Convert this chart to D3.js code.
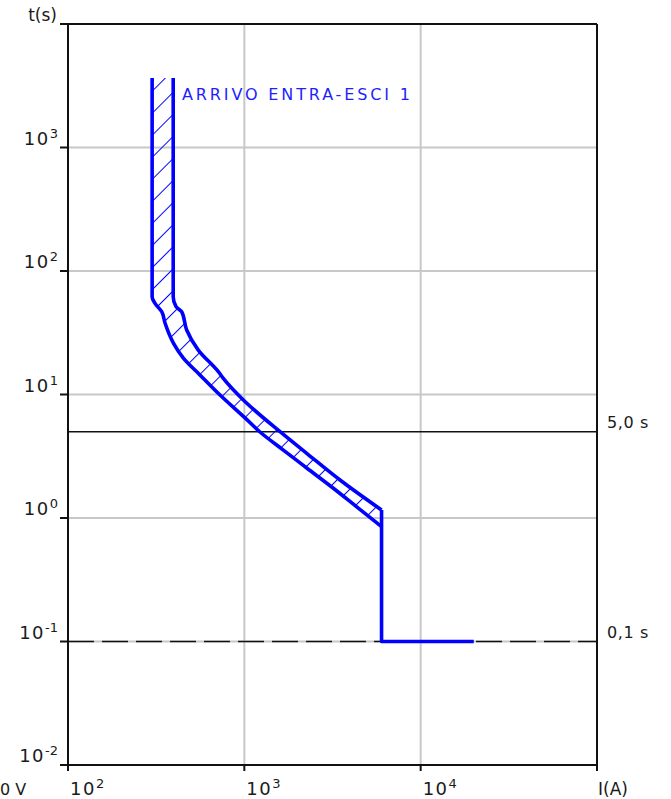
<!DOCTYPE html>
<html>
<head>
<meta charset="utf-8">
<script src="https://cdn.jsdelivr.net/npm/d3@7/dist/d3.min.js"></script>
<style>
  html, body { margin: 0; padding: 0; background: #fff; }
  svg { display: block; }
  text { font-family: "DejaVu Sans", Verdana, sans-serif; fill: #1a1a1a; }
</style>
</head>
<body>
<div id="chart"></div>
<script>
// Decade ticks (exponents of ten)
const xTickExps = [2, 3, 4];
const yTickExps = [3, 2, 1, 0, -1, -2];

// Tripping band of "ARRIVO ENTRA-ESCI 1": minimum (left) and maximum (right) curves
const bandMinI = [300, 300, 311, 340, 355, 396, 451, 560, 728, 1009, 1227, 1657, 2258, 3184, 4339, 6000];
const bandMinT = [3650, 61.6, 55, 46.8, 37.9, 26.1, 19.7, 14.4, 9.9, 6.46, 4.97, 3.56, 2.54, 1.75, 1.23, 0.85];
const bandMaxI = [395, 395, 410, 441, 471, 548, 712, 760, 987, 1594, 2258, 3488, 6000];
const bandMaxT = [3650, 62, 51.4, 46.8, 33.3, 22.9, 15.3, 13.5, 9.03, 5.0, 3.34, 2.03, 1.16];

// Band end and instantaneous trip step
const instantI = [6000, 6000, 6000, 20000];
const instantT = [1.16, 0.85, 0.1, 0.1];

// Time setting reference lines
const settingT = [5, 0.1];
const settingLabels = ["5,0 s", "0,1 s"];
const settingDashed = [false, true];

const curveName = "ARRIVO ENTRA-ESCI 1";

const W = 671, H = 799;
const plotLeft = 68, plotRight = 597, plotTop = 24, plotBottom = 765;

const x = d3.scaleLog().domain([100, 100000]).range([plotLeft, plotRight]);
const y = d3.scaleLog().domain([0.01, 10000]).range([plotBottom, plotTop]);

const svg = d3.select("#chart").append("svg").attr("width", W).attr("height", H);

const defs = svg.append("defs");
const pat = defs.append("pattern")
  .attr("id", "hatch")
  .attr("patternUnits", "userSpaceOnUse")
  .attr("width", 15.6).attr("height", 15.6)
  .attr("patternTransform", "rotate(45)");
pat.append("line")
  .attr("x1", 0).attr("y1", 0).attr("x2", 0).attr("y2", 15.6)
  .attr("stroke", "#0000ff").attr("stroke-width", 2);

// Grid lines
const grid = svg.append("g");
[3, 4].forEach(e => {
  grid.append("line")
    .attr("x1", x(Math.pow(10, e))).attr("x2", x(Math.pow(10, e)))
    .attr("y1", plotTop).attr("y2", plotBottom)
    .attr("stroke", "#c8c8c8").attr("stroke-width", 2);
});
[3, 2, 1, 0, -1].forEach(e => {
  grid.append("line")
    .attr("x1", plotLeft).attr("x2", plotRight)
    .attr("y1", y(Math.pow(10, e))).attr("y2", y(Math.pow(10, e)))
    .attr("stroke", "#c8c8c8").attr("stroke-width", 2);
});

// Setting lines and labels
settingT.forEach((t, i) => {
  svg.append("line")
    .attr("x1", plotLeft).attr("x2", plotRight)
    .attr("y1", y(t)).attr("y2", y(t))
    .attr("stroke", "#111").attr("stroke-width", 1.6)
    .attr("stroke-dasharray", settingDashed[i] ? "26,8" : null);
  svg.append("text")
    .attr("x", 607).attr("y", y(t) - 4)
    .attr("font-size", 16)
    .attr("letter-spacing", 0.6)
    .text(settingLabels[i]);
});

// Frame
const frame = svg.append("g").attr("stroke", "#111").attr("stroke-width", 2).attr("fill", "none");
frame.append("line").attr("x1", 60).attr("x2", plotRight).attr("y1", plotTop).attr("y2", plotTop);
frame.append("line").attr("x1", 60).attr("x2", plotRight).attr("y1", plotBottom).attr("y2", plotBottom);
frame.append("line").attr("x1", plotLeft).attr("x2", plotLeft).attr("y1", plotTop).attr("y2", plotBottom + 6);
frame.append("line").attr("x1", plotRight).attr("x2", plotRight).attr("y1", plotTop).attr("y2", plotBottom + 6);

// Y ticks and labels
yTickExps.forEach(e => {
  const py = y(Math.pow(10, e));
  frame.append("line").attr("x1", 60).attr("x2", plotLeft).attr("y1", py).attr("y2", py);
  const t = svg.append("text")
    .attr("x", 58).attr("y", py - 3)
    .attr("text-anchor", "end")
    .attr("font-size", 18);
  t.append("tspan").attr("letter-spacing", 1.5).text("10");
  t.append("tspan").attr("font-size", 13).attr("dy", -7).text(String(e));
});

// X ticks and labels
xTickExps.forEach(e => {
  const px = x(Math.pow(10, e));
  frame.append("line").attr("x1", px).attr("x2", px).attr("y1", plotBottom).attr("y2", plotBottom + 6);
  const t = svg.append("text")
    .attr("x", px + 2).attr("y", 795)
    .attr("font-size", 18);
  t.append("tspan").attr("letter-spacing", 1.5).text("10");
  t.append("tspan").attr("font-size", 13).attr("dy", -7).text(String(e));
});

svg.append("text").attr("x", 598).attr("y", 795).attr("font-size", 17).text("I(A)");
svg.append("text").attr("x", 57).attr("y", 21).attr("text-anchor", "end").attr("font-size", 17).text("t(s)");
svg.append("text").attr("x", 0).attr("y", 795).attr("font-size", 16).text("0 V");

// Tripping band
const minPts = bandMinI.map((v, i) => [x(v), y(bandMinT[i])]);
const maxPts = bandMaxI.map((v, i) => [x(v), y(bandMaxT[i])]);
const smooth = d3.line().curve(d3.curveMonotoneY);

// Hatched area between the two curves
const areaPath = smooth(minPts) + "L" + smooth(maxPts.slice().reverse()).slice(1) + "Z";
svg.append("path")
  .attr("d", areaPath)
  .attr("fill", "url(#hatch)")
  .attr("stroke", "none");

const blue = "#0000ff";
[minPts, maxPts].forEach(pts => {
  svg.append("path")
    .attr("d", smooth(pts))
    .attr("fill", "none").attr("stroke", blue).attr("stroke-width", 3.6)
    .attr("stroke-linejoin", "round");
});
svg.append("path")
  .attr("d", d3.line()(instantI.map((v, i) => [x(v), y(instantT[i])])))
  .attr("fill", "none").attr("stroke", blue).attr("stroke-width", 3.6)
  .attr("stroke-linejoin", "round");

svg.append("text")
  .attr("x", 182).attr("y", 100)
  .attr("font-size", 16)
  .attr("textLength", 228).attr("lengthAdjust", "spacing")
  .style("fill", "#1e1eff")
  .text(curveName);
</script>
</body>
</html>
